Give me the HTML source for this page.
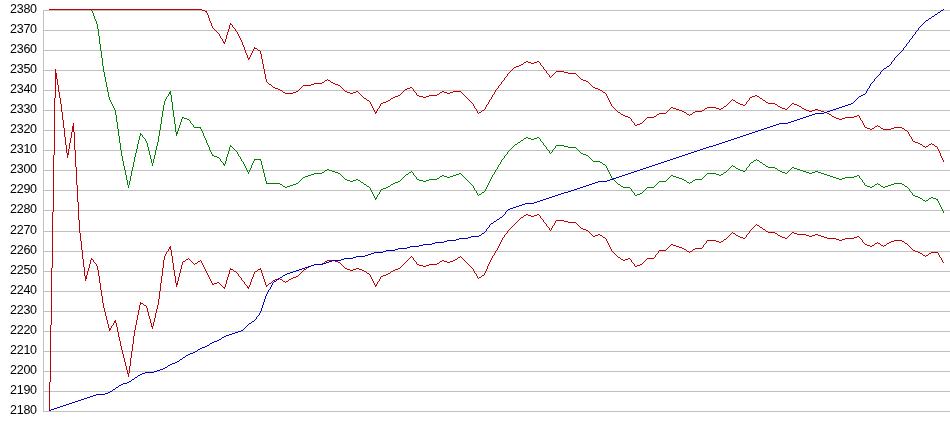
<!DOCTYPE html>
<html><head><meta charset="utf-8"><title>chart</title>
<style>
html,body{margin:0;padding:0;background:#fff;}
body{width:950px;height:435px;position:relative;overflow:hidden;font-family:"Liberation Sans",sans-serif;}
.g{position:absolute;left:43px;width:907px;height:1px;background:#c0c0c0;}
.ax{position:absolute;left:43px;top:10px;width:1px;height:402px;background:#c0c0c0;}
.lb{position:absolute;left:0;top:0;width:40px;height:435px;will-change:transform;}
.l{position:absolute;left:10px;width:37px;text-align:left;font-size:12.5px;letter-spacing:-0.25px;line-height:14px;color:#000;}
svg{position:absolute;left:0;top:0;}
</style></head><body>
<div class="g" style="top:10px"></div><div class="g" style="top:30px"></div><div class="g" style="top:50px"></div><div class="g" style="top:70px"></div><div class="g" style="top:90px"></div><div class="g" style="top:110px"></div><div class="g" style="top:130px"></div><div class="g" style="top:150px"></div><div class="g" style="top:170px"></div><div class="g" style="top:190px"></div><div class="g" style="top:210px"></div><div class="g" style="top:231px"></div><div class="g" style="top:251px"></div><div class="g" style="top:271px"></div><div class="g" style="top:291px"></div><div class="g" style="top:311px"></div><div class="g" style="top:331px"></div><div class="g" style="top:351px"></div><div class="g" style="top:371px"></div><div class="g" style="top:391px"></div><div class="g" style="top:411px"></div>
<div class="ax"></div>
<div class="lb"><div class="l" style="top:2.4px">2380</div><div class="l" style="top:22.4px">2370</div><div class="l" style="top:42.4px">2360</div><div class="l" style="top:62.4px">2350</div><div class="l" style="top:82.4px">2340</div><div class="l" style="top:102.4px">2330</div><div class="l" style="top:122.4px">2320</div><div class="l" style="top:142.4px">2310</div><div class="l" style="top:162.4px">2300</div><div class="l" style="top:182.4px">2290</div><div class="l" style="top:202.4px">2280</div><div class="l" style="top:223.4px">2270</div><div class="l" style="top:243.4px">2260</div><div class="l" style="top:263.4px">2250</div><div class="l" style="top:283.4px">2240</div><div class="l" style="top:303.4px">2230</div><div class="l" style="top:323.4px">2220</div><div class="l" style="top:343.4px">2210</div><div class="l" style="top:363.4px">2200</div><div class="l" style="top:383.4px">2190</div><div class="l" style="top:403.4px">2180</div></div>
<svg width="950" height="435" viewBox="0 0 950 435" shape-rendering="crispEdges" fill="none" stroke-width="1" stroke-linejoin="round">
<path stroke="#008000" d="M49 9.5h43M169 92.5h2M169 93.5h2M182 117.5h2M184 118.5h3M187 119.5h2M194 127.5h7M176 132.5h2M176 133.5h2M140 134.5h2M526 137.5h2M537 137.5h2M524 138.5h2M528 138.5h3M534 138.5h3M531 139.5h3M521 140.5h2M518 142.5h2M515 144.5h2M556 145.5h8M230 146.5h2M564 146.5h4M568 147.5h8M581 153.5h2M583 154.5h3M212 155.5h2M586 155.5h2M214 156.5h3M217 157.5h2M254 159.5h7M754 160.5h2M757 160.5h2M593 161.5h7M600 162.5h2M751 162.5h2M760 162.5h2M223 164.5h2M603 164.5h2M763 164.5h2M733 166.5h2M766 166.5h2M768 167.5h7M792 167.5h2M736 168.5h2M775 168.5h2M794 168.5h3M327 169.5h2M738 169.5h2M797 169.5h3M325 170.5h2M329 170.5h3M740 170.5h3M778 170.5h2M800 170.5h3M332 171.5h3M743 171.5h2M780 171.5h2M803 171.5h3M815 171.5h3M322 172.5h2M335 172.5h3M409 172.5h2M724 172.5h2M782 172.5h3M806 172.5h3M812 172.5h3M818 172.5h3M314 173.5h8M338 173.5h2M459 173.5h2M707 173.5h9M785 173.5h2M809 173.5h3M821 173.5h3M311 174.5h3M406 174.5h2M456 174.5h3M716 174.5h3M721 174.5h2M824 174.5h3M308 175.5h3M442 175.5h2M453 175.5h3M671 175.5h2M719 175.5h2M827 175.5h3M857 175.5h2M305 176.5h3M440 176.5h2M444 176.5h3M450 176.5h3M673 176.5h3M830 176.5h3M854 176.5h3M303 177.5h2M447 177.5h3M676 177.5h3M833 177.5h3M845 177.5h9M437 178.5h2M679 178.5h3M836 178.5h3M842 178.5h3M345 179.5h2M356 179.5h2M417 179.5h2M429 179.5h8M682 179.5h2M695 179.5h7M839 179.5h3M347 180.5h3M353 180.5h3M358 180.5h2M419 180.5h4M426 180.5h3M684 180.5h2M693 180.5h2M350 181.5h3M398 181.5h2M423 181.5h3M659 181.5h7M361 182.5h2M395 182.5h3M687 182.5h2M690 182.5h2M266 183.5h14M296 183.5h2M393 183.5h2M894 183.5h8M280 184.5h2M293 184.5h3M364 184.5h2M391 184.5h2M618 184.5h2M875 184.5h2M878 184.5h2M891 184.5h3M902 184.5h2M290 185.5h3M865 185.5h2M888 185.5h3M283 186.5h2M287 186.5h3M367 186.5h2M388 186.5h2M621 186.5h2M867 186.5h3M872 186.5h2M881 186.5h2M885 186.5h3M905 186.5h2M285 187.5h2M386 187.5h2M623 187.5h7M647 187.5h7M870 187.5h2M883 187.5h2M383 188.5h3M381 189.5h2M482 192.5h2M640 193.5h2M479 194.5h2M637 194.5h3M635 195.5h2M913 195.5h2M915 196.5h3M918 197.5h2M931 197.5h2M375 198.5h2M920 198.5h2M929 198.5h2M933 198.5h3M936 199.5h2M923 200.5h2M926 200.5h2M91.5 10v1M92.5 11v2M93.5 13v3M94.5 16v3M95.5 19v2M96.5 21v3M97.5 24v5M98.5 29v7M99.5 36v8M100.5 44v7M101.5 51v7M102.5 58v8M103.5 66v6M104.5 72v5M105.5 77v5M106.5 82v5M107.5 87v5M108.5 92v5M109.5 97v3M110.5 100v2M111.5 102v2M112.5 104v2M113.5 106v2M114.5 108v2M115.5 110v5M116.5 115v7M117.5 122v7M118.5 129v7M119.5 136v7M120.5 143v7M121.5 150v6M122.5 156v5M123.5 161v5M124.5 166v4M125.5 170v5M126.5 175v5M127.5 180v5M128.5 185v3M129.5 181v4M130.5 176v5M131.5 171v5M132.5 167v4M133.5 162v5M134.5 157v5M135.5 153v4M136.5 149v4M137.5 144v5M138.5 140v4M139.5 136v4M140.5 133v1M140.5 135v1M142.5 135v2M143.5 137v1M144.5 138v1M145.5 139v2M146.5 141v2M147.5 143v4M148.5 147v4M149.5 151v4M150.5 155v4M151.5 159v4M152.5 163v3M153.5 159v4M154.5 155v4M155.5 150v5M156.5 146v4M157.5 142v4M158.5 136v6M159.5 130v6M160.5 124v6M161.5 117v7M162.5 111v6M163.5 105v6M164.5 101v4M165.5 99v2M166.5 97v2M167.5 96v1M168.5 94v2M170.5 91v1M170.5 94v1M171.5 95v7M172.5 102v8M173.5 110v7M174.5 117v7M175.5 124v8M176.5 134v2M177.5 131v1M178.5 128v3M179.5 125v3M180.5 122v3M181.5 119v3M182.5 118v1M189.5 120v1M190.5 121v2M191.5 123v1M192.5 124v1M193.5 125v2M200.5 128v1M201.5 129v2M202.5 131v2M203.5 133v3M204.5 136v2M205.5 138v2M206.5 140v3M207.5 143v2M208.5 145v2M209.5 147v3M210.5 150v2M211.5 152v2M212.5 154v1M219.5 158v1M220.5 159v2M221.5 161v1M222.5 162v1M223.5 163v1M224.5 165v1M225.5 161v3M226.5 157v4M227.5 154v3M228.5 151v3M229.5 147v4M230.5 145v1M232.5 147v1M233.5 148v1M234.5 149v1M235.5 150v1M236.5 151v1M237.5 152v2M238.5 154v2M239.5 156v1M240.5 157v2M241.5 159v2M242.5 161v1M243.5 162v2M244.5 164v2M245.5 166v2M246.5 168v2M247.5 170v2M248.5 172v2M249.5 170v2M250.5 168v2M251.5 165v3M252.5 163v2M253.5 161v2M254.5 160v1M260.5 160v1M261.5 161v4M262.5 165v4M263.5 169v4M264.5 173v4M265.5 177v4M266.5 181v2M282.5 185v1M298.5 182v1M299.5 181v1M300.5 180v1M301.5 179v1M302.5 178v1M324.5 171v1M340.5 174v1M341.5 175v1M342.5 176v1M343.5 177v1M344.5 178v1M360.5 181v1M363.5 183v1M366.5 185v1M369.5 187v1M370.5 188v2M371.5 190v2M372.5 192v2M373.5 194v2M374.5 196v2M375.5 199v1M376.5 197v1M377.5 195v2M378.5 194v1M379.5 192v2M380.5 190v2M390.5 185v1M400.5 180v1M401.5 179v1M402.5 178v1M403.5 177v1M404.5 176v1M405.5 175v1M408.5 173v1M411.5 171v1M412.5 172v1M413.5 173v2M414.5 175v1M415.5 176v1M416.5 177v2M439.5 177v1M461.5 174v1M462.5 175v1M463.5 176v1M464.5 177v1M465.5 178v1M466.5 179v1M467.5 180v1M468.5 181v1M469.5 182v1M470.5 183v1M471.5 184v1M472.5 185v1M473.5 186v2M474.5 188v2M475.5 190v1M476.5 191v2M477.5 193v2M478.5 195v1M481.5 193v1M484.5 191v1M485.5 189v2M486.5 187v2M487.5 185v2M488.5 183v2M489.5 181v2M490.5 179v2M491.5 177v2M492.5 175v2M493.5 174v1M494.5 172v2M495.5 170v2M496.5 169v1M497.5 167v2M498.5 165v2M499.5 164v1M500.5 162v2M501.5 160v2M502.5 159v1M503.5 158v1M504.5 156v2M505.5 155v1M506.5 154v1M507.5 152v2M508.5 151v1M509.5 150v1M510.5 149v1M511.5 148v1M512.5 147v1M513.5 146v1M514.5 145v1M517.5 143v1M520.5 141v1M523.5 139v1M539.5 138v1M540.5 139v2M541.5 141v1M542.5 142v1M543.5 143v2M544.5 145v1M545.5 146v1M546.5 147v2M547.5 149v1M548.5 150v1M549.5 151v2M550.5 153v1M551.5 152v1M552.5 150v2M553.5 149v1M554.5 148v1M555.5 146v2M576.5 148v1M577.5 149v1M578.5 150v1M579.5 151v1M580.5 152v1M588.5 156v1M589.5 157v1M590.5 158v1M591.5 159v1M592.5 160v1M602.5 163v1M605.5 165v1M606.5 166v2M607.5 168v2M608.5 170v2M609.5 172v2M610.5 174v2M611.5 176v2M612.5 178v1M613.5 179v1M614.5 180v1M615.5 181v1M616.5 182v1M617.5 183v1M620.5 185v1M630.5 188v1M631.5 189v2M632.5 191v1M633.5 192v1M634.5 193v2M642.5 192v1M643.5 191v1M644.5 190v1M645.5 189v1M646.5 188v1M654.5 186v1M655.5 185v1M656.5 184v1M657.5 183v1M658.5 182v1M666.5 180v1M667.5 179v1M668.5 178v1M669.5 177v1M670.5 176v1M686.5 181v1M689.5 183v1M692.5 181v1M702.5 178v1M703.5 177v1M704.5 176v1M705.5 175v1M706.5 174v1M723.5 173v1M726.5 171v1M727.5 170v1M728.5 169v1M729.5 168v1M730.5 167v1M731.5 166v1M732.5 165v1M735.5 167v1M745.5 170v1M746.5 168v2M747.5 167v1M748.5 166v1M749.5 164v2M750.5 163v1M753.5 161v1M756.5 159v1M759.5 161v1M762.5 163v1M765.5 165v1M777.5 169v1M787.5 172v1M788.5 171v1M789.5 170v1M790.5 169v1M791.5 168v1M859.5 176v2M860.5 178v1M861.5 179v1M862.5 180v2M863.5 182v1M864.5 183v2M874.5 185v1M877.5 183v1M880.5 185v1M904.5 185v1M907.5 187v1M908.5 188v1M909.5 189v2M910.5 191v1M911.5 192v1M912.5 193v2M922.5 199v1M925.5 201v1M928.5 199v1M937.5 200v1M938.5 201v2M939.5 203v2M940.5 205v2M941.5 207v2M942.5 209v2M943.5 211v2"/>
<path stroke="#c00000" d="M49 9.5h153M202 10.5h3M205 11.5h2M230 24.5h2M223 42.5h2M254 48.5h3M258 50.5h2M248 58.5h2M526 61.5h2M537 61.5h2M524 62.5h2M528 62.5h3M534 62.5h3M531 63.5h3M521 64.5h2M519 65.5h2M516 66.5h3M514 67.5h2M556 71.5h8M564 72.5h4M568 73.5h8M581 79.5h2M325 80.5h2M328 80.5h2M583 80.5h3M586 81.5h2M322 82.5h2M331 82.5h2M314 83.5h8M333 83.5h2M269 84.5h2M311 84.5h3M335 84.5h3M303 85.5h8M338 85.5h2M273 87.5h2M410 87.5h2M593 87.5h2M275 88.5h3M407 88.5h3M595 88.5h3M278 89.5h2M405 89.5h2M598 89.5h2M280 90.5h2M600 90.5h2M296 91.5h2M345 91.5h2M356 91.5h2M442 91.5h2M453 91.5h8M283 92.5h2M293 92.5h3M347 92.5h3M353 92.5h3M440 92.5h2M444 92.5h3M450 92.5h3M603 92.5h2M285 93.5h8M350 93.5h3M447 93.5h3M437 94.5h2M398 95.5h2M417 95.5h2M429 95.5h8M755 95.5h2M395 96.5h3M419 96.5h4M426 96.5h3M752 96.5h3M757 96.5h2M393 97.5h2M423 97.5h3M750 97.5h2M364 98.5h2M391 98.5h2M760 98.5h2M367 100.5h2M388 100.5h2M733 100.5h2M763 100.5h2M386 101.5h2M383 102.5h3M736 102.5h2M766 102.5h2M381 103.5h2M738 103.5h2M768 103.5h7M792 103.5h2M740 104.5h3M775 104.5h2M794 104.5h3M743 105.5h2M797 105.5h2M724 106.5h2M778 106.5h2M799 106.5h2M671 107.5h2M707 107.5h9M780 107.5h2M673 108.5h3M705 108.5h2M716 108.5h3M721 108.5h2M782 108.5h3M802 108.5h2M676 109.5h3M719 109.5h2M785 109.5h2M804 109.5h2M815 109.5h3M482 110.5h2M679 110.5h3M702 110.5h2M806 110.5h3M812 110.5h3M818 110.5h3M682 111.5h2M695 111.5h7M809 111.5h3M821 111.5h3M375 112.5h2M479 112.5h2M618 112.5h2M684 112.5h2M693 112.5h2M824 112.5h3M659 113.5h7M827 113.5h2M621 114.5h2M657 114.5h2M687 114.5h2M690 114.5h2M829 114.5h2M623 115.5h2M857 115.5h2M625 116.5h3M654 116.5h2M832 116.5h2M854 116.5h3M628 117.5h2M647 117.5h7M834 117.5h2M845 117.5h9M836 118.5h3M842 118.5h3M839 119.5h3M640 123.5h2M637 124.5h3M635 125.5h2M875 126.5h2M878 126.5h2M865 127.5h2M894 127.5h8M867 128.5h3M872 128.5h2M881 128.5h2M891 128.5h3M902 128.5h2M870 129.5h2M883 129.5h8M905 130.5h2M913 141.5h2M915 142.5h3M918 143.5h2M920 144.5h2M929 144.5h2M932 144.5h2M923 146.5h2M926 146.5h2M935 146.5h2M206.5 12v1M207.5 13v2M208.5 15v3M209.5 18v3M210.5 21v2M211.5 23v3M212.5 26v2M213.5 28v1M214.5 29v1M215.5 30v1M216.5 31v1M217.5 32v1M218.5 33v1M219.5 34v2M220.5 36v2M221.5 38v1M222.5 39v2M223.5 41v1M224.5 43v1M225.5 39v3M226.5 35v4M227.5 32v3M228.5 29v3M229.5 25v4M230.5 23v1M232.5 25v2M233.5 27v1M234.5 28v1M235.5 29v2M236.5 31v1M237.5 32v2M238.5 34v2M239.5 36v2M240.5 38v2M241.5 40v2M242.5 42v3M243.5 45v2M244.5 47v3M245.5 50v3M246.5 53v2M247.5 55v3M248.5 59v1M249.5 57v1M250.5 55v2M251.5 53v2M252.5 51v2M253.5 49v2M254.5 47v1M257.5 49v1M260.5 51v3M261.5 54v5M262.5 59v5M263.5 64v5M264.5 69v5M265.5 74v5M266.5 79v3M267.5 82v1M268.5 83v1M271.5 85v1M272.5 86v1M282.5 91v1M298.5 90v1M299.5 89v1M300.5 88v1M301.5 87v1M302.5 86v1M324.5 81v1M327.5 79v1M330.5 81v1M340.5 86v1M341.5 87v1M342.5 88v1M343.5 89v1M344.5 90v1M358.5 92v1M359.5 93v1M360.5 94v1M361.5 95v1M362.5 96v1M363.5 97v1M366.5 99v1M369.5 101v1M370.5 102v2M371.5 104v2M372.5 106v2M373.5 108v2M374.5 110v2M375.5 113v1M376.5 111v1M377.5 109v2M378.5 108v1M379.5 106v2M380.5 104v2M390.5 99v1M400.5 94v1M401.5 93v1M402.5 92v1M403.5 91v1M404.5 90v1M412.5 88v1M413.5 89v2M414.5 91v1M415.5 92v1M416.5 93v2M439.5 93v1M461.5 92v1M462.5 93v1M463.5 94v1M464.5 95v1M465.5 96v1M466.5 97v1M467.5 98v1M468.5 99v1M469.5 100v1M470.5 101v1M471.5 102v1M472.5 103v1M473.5 104v2M474.5 106v2M475.5 108v1M476.5 109v2M477.5 111v2M478.5 113v1M481.5 111v1M484.5 109v1M485.5 107v2M486.5 105v2M487.5 104v1M488.5 102v2M489.5 100v2M490.5 99v1M491.5 97v2M492.5 95v2M493.5 94v1M494.5 92v2M495.5 90v2M496.5 89v1M497.5 88v1M498.5 86v2M499.5 85v1M500.5 84v1M501.5 82v2M502.5 81v1M503.5 80v1M504.5 78v2M505.5 77v1M506.5 76v1M507.5 74v2M508.5 73v1M509.5 72v1M510.5 71v1M511.5 70v1M512.5 69v1M513.5 68v1M523.5 63v1M539.5 62v1M540.5 63v2M541.5 65v1M542.5 66v1M543.5 67v2M544.5 69v1M545.5 70v1M546.5 71v2M547.5 73v1M548.5 74v1M549.5 75v2M550.5 77v1M551.5 76v1M552.5 75v1M553.5 74v1M554.5 73v1M555.5 72v1M576.5 74v1M577.5 75v1M578.5 76v1M579.5 77v1M580.5 78v1M588.5 82v1M589.5 83v1M590.5 84v1M591.5 85v1M592.5 86v1M602.5 91v1M605.5 93v1M606.5 94v2M607.5 96v2M608.5 98v2M609.5 100v2M610.5 102v2M611.5 104v2M612.5 106v1M613.5 107v1M614.5 108v1M615.5 109v1M616.5 110v1M617.5 111v1M620.5 113v1M630.5 118v1M631.5 119v2M632.5 121v1M633.5 122v1M634.5 123v2M642.5 122v1M643.5 121v1M644.5 120v1M645.5 119v1M646.5 118v1M656.5 115v1M666.5 112v1M667.5 111v1M668.5 110v1M669.5 109v1M670.5 108v1M686.5 113v1M689.5 115v1M692.5 113v1M704.5 109v1M723.5 107v1M726.5 105v1M727.5 104v1M728.5 103v1M729.5 102v1M730.5 101v1M731.5 100v1M732.5 99v1M735.5 101v1M745.5 104v1M746.5 102v2M747.5 101v1M748.5 100v1M749.5 98v2M759.5 97v1M762.5 99v1M765.5 101v1M777.5 105v1M787.5 108v1M788.5 107v1M789.5 106v1M790.5 105v1M791.5 104v1M801.5 107v1M831.5 115v1M859.5 116v2M860.5 118v2M861.5 120v1M862.5 121v2M863.5 123v2M864.5 125v2M874.5 127v1M877.5 125v1M880.5 127v1M904.5 129v1M907.5 131v1M908.5 132v2M909.5 134v2M910.5 136v1M911.5 137v2M912.5 139v2M922.5 145v1M925.5 147v1M928.5 145v1M931.5 143v1M934.5 145v1M937.5 147v2M938.5 149v2M939.5 151v2M940.5 153v3M941.5 156v2M942.5 158v2M943.5 160v2"/>
<path stroke="#c00000" d="M55 73.5h2M55 74.5h2M55 75.5h2M55 76.5h2M55 77.5h2M55 78.5h2M72 126.5h2M72 127.5h2M72 128.5h2M72 129.5h2M72 130.5h2M72 131.5h2M67 153.5h2M67 154.5h2M526 214.5h2M537 214.5h2M524 215.5h2M528 215.5h3M534 215.5h3M531 216.5h3M521 217.5h2M556 220.5h8M564 221.5h4M568 222.5h8M757 225.5h2M760 227.5h2M581 228.5h2M583 229.5h3M763 229.5h2M586 230.5h2M766 231.5h2M768 232.5h7M792 232.5h2M733 233.5h2M775 233.5h2M794 233.5h3M598 234.5h2M797 234.5h9M815 234.5h3M595 235.5h3M600 235.5h2M736 235.5h2M778 235.5h2M806 235.5h3M812 235.5h3M818 235.5h3M593 236.5h2M738 236.5h2M780 236.5h2M809 236.5h3M821 236.5h3M857 236.5h2M603 237.5h2M740 237.5h3M782 237.5h3M824 237.5h3M854 237.5h3M743 238.5h2M785 238.5h2M827 238.5h9M845 238.5h9M724 239.5h2M836 239.5h3M842 239.5h3M707 240.5h9M839 240.5h3M894 240.5h8M716 241.5h3M721 241.5h2M891 241.5h3M902 241.5h2M719 242.5h2M889 242.5h2M875 243.5h2M878 243.5h2M887 243.5h2M905 243.5h2M671 244.5h2M865 244.5h2M673 245.5h3M867 245.5h3M872 245.5h2M881 245.5h2M884 245.5h2M676 246.5h3M870 246.5h2M169 247.5h2M679 247.5h3M169 248.5h2M682 248.5h2M695 248.5h7M684 249.5h2M693 249.5h2M659 250.5h7M913 250.5h2M687 251.5h2M690 251.5h2M915 251.5h3M918 252.5h2M931 252.5h7M920 253.5h2M929 253.5h2M923 255.5h2M926 255.5h2M458 257.5h2M618 257.5h2M628 258.5h2M647 258.5h7M91 259.5h2M186 259.5h2M455 259.5h2M621 259.5h2M625 259.5h3M327 260.5h8M442 260.5h2M453 260.5h2M623 260.5h2M183 261.5h2M198 261.5h2M325 261.5h2M335 261.5h3M440 261.5h2M444 261.5h3M450 261.5h3M338 262.5h2M447 262.5h3M195 263.5h2M322 263.5h2M437 263.5h2M314 264.5h8M417 264.5h2M429 264.5h8M640 264.5h2M311 265.5h3M419 265.5h4M426 265.5h3M637 265.5h3M309 266.5h2M423 266.5h3M635 266.5h2M307 267.5h2M345 268.5h2M356 268.5h3M398 268.5h2M230 269.5h3M258 269.5h3M304 269.5h2M347 269.5h3M353 269.5h3M359 269.5h3M395 269.5h3M350 270.5h3M362 270.5h2M393 270.5h2M234 271.5h2M255 271.5h2M364 271.5h2M391 271.5h2M367 273.5h2M388 273.5h2M386 274.5h2M383 275.5h3M482 275.5h2M85 276.5h2M296 276.5h2M381 276.5h2M85 277.5h2M293 277.5h3M479 277.5h2M85 278.5h2M278 278.5h2M291 278.5h2M275 279.5h3M280 279.5h2M289 279.5h2M273 280.5h2M283 281.5h2M286 281.5h2M217 282.5h2M176 283.5h2M214 283.5h3M269 283.5h2M176 284.5h2M212 284.5h2M266 285.5h2M375 285.5h2M223 287.5h2M247 287.5h2M140 303.5h3M144 305.5h2M114 321.5h2M114 322.5h2M151 326.5h2M109 328.5h2M109 329.5h2M127 373.5h2M49.5 382v29M50.5 325v57M51.5 268v57M52.5 212v56M53.5 155v57M54.5 98v57M55.5 69v4M55.5 79v19M57.5 79v6M58.5 85v7M59.5 92v6M60.5 98v6M61.5 104v8M62.5 112v8M63.5 120v8M64.5 128v9M65.5 137v8M66.5 145v8M67.5 155v3M68.5 149v4M69.5 143v6M70.5 138v5M71.5 132v6M73.5 123v3M74.5 132v18M75.5 150v17M76.5 167v18M77.5 185v17M78.5 202v18M79.5 220v13M80.5 233v8M81.5 241v9M82.5 250v9M83.5 259v8M84.5 267v9M85.5 279v2M86.5 275v1M87.5 271v4M88.5 268v3M89.5 264v4M90.5 260v4M91.5 258v1M93.5 260v2M94.5 262v1M95.5 263v1M96.5 264v2M97.5 266v4M98.5 270v6M99.5 276v7M100.5 283v7M101.5 290v6M102.5 296v7M103.5 303v5M104.5 308v4M105.5 312v4M106.5 316v4M107.5 320v4M108.5 324v4M109.5 330v1M111.5 326v2M112.5 325v1M113.5 323v2M115.5 320v1M116.5 323v4M117.5 327v5M118.5 332v5M119.5 337v4M120.5 341v5M121.5 346v4M122.5 350v4M123.5 354v4M124.5 358v4M125.5 362v4M126.5 366v4M127.5 370v3M128.5 374v3M129.5 366v7M130.5 358v8M131.5 351v7M132.5 344v7M133.5 336v8M134.5 330v6M135.5 325v5M136.5 320v5M137.5 315v5M138.5 310v5M139.5 305v5M140.5 302v1M140.5 304v1M143.5 304v1M146.5 306v2M147.5 308v4M148.5 312v4M149.5 316v3M150.5 319v4M151.5 323v3M152.5 327v2M153.5 322v4M154.5 318v4M155.5 313v5M156.5 309v4M157.5 305v4M158.5 299v6M159.5 291v8M160.5 283v8M161.5 276v7M162.5 268v8M163.5 260v8M164.5 256v4M165.5 254v2M166.5 252v2M167.5 251v1M168.5 249v2M170.5 246v1M170.5 249v1M171.5 250v6M172.5 256v7M173.5 263v7M174.5 270v6M175.5 276v7M176.5 285v2M177.5 281v2M178.5 277v4M179.5 273v4M180.5 269v4M181.5 265v4M182.5 262v3M185.5 260v1M188.5 258v1M189.5 259v1M190.5 260v1M191.5 261v1M192.5 262v1M193.5 263v1M194.5 264v1M197.5 262v1M200.5 260v1M201.5 261v2M202.5 263v2M203.5 265v2M204.5 267v2M205.5 269v2M206.5 271v2M207.5 273v2M208.5 275v2M209.5 277v2M210.5 279v2M211.5 281v2M212.5 283v1M219.5 283v1M220.5 284v1M221.5 285v1M222.5 286v1M224.5 288v1M225.5 284v3M226.5 280v4M227.5 277v3M228.5 274v3M229.5 270v4M230.5 268v1M233.5 270v1M236.5 272v1M237.5 273v1M238.5 274v2M239.5 276v1M240.5 277v1M241.5 278v2M242.5 280v1M243.5 281v1M244.5 282v2M245.5 284v1M246.5 285v1M247.5 286v1M248.5 288v1M249.5 285v2M250.5 282v3M251.5 279v3M252.5 277v2M253.5 274v3M254.5 272v2M257.5 270v1M260.5 268v1M261.5 270v3M262.5 273v3M263.5 276v3M264.5 279v3M265.5 282v3M266.5 286v1M268.5 284v1M271.5 282v1M272.5 281v1M282.5 280v1M285.5 282v1M288.5 280v1M298.5 275v1M299.5 274v1M300.5 273v1M301.5 272v1M302.5 271v1M303.5 270v1M306.5 268v1M324.5 262v1M340.5 263v1M341.5 264v1M342.5 265v1M343.5 266v1M344.5 267v1M366.5 272v1M369.5 274v1M370.5 275v2M371.5 277v2M372.5 279v2M373.5 281v2M374.5 283v2M375.5 286v1M376.5 284v1M377.5 282v2M378.5 281v1M379.5 279v2M380.5 277v2M390.5 272v1M400.5 267v1M401.5 266v1M402.5 265v1M403.5 264v1M404.5 263v1M405.5 262v1M406.5 261v1M407.5 260v1M408.5 259v1M409.5 258v1M410.5 257v1M411.5 256v1M412.5 257v1M413.5 258v2M414.5 260v1M415.5 261v1M416.5 262v2M439.5 262v1M457.5 258v1M460.5 256v1M461.5 257v1M462.5 258v1M463.5 259v1M464.5 260v1M465.5 261v1M466.5 262v1M467.5 263v1M468.5 264v1M469.5 265v1M470.5 266v1M471.5 267v1M472.5 268v1M473.5 269v2M474.5 271v2M475.5 273v1M476.5 274v2M477.5 276v2M478.5 278v1M481.5 276v1M484.5 273v2M485.5 271v2M486.5 269v2M487.5 266v3M488.5 264v2M489.5 262v2M490.5 260v2M491.5 258v2M492.5 256v2M493.5 255v1M494.5 253v2M495.5 251v2M496.5 250v1M497.5 248v2M498.5 246v2M499.5 244v2M500.5 242v2M501.5 240v2M502.5 238v2M503.5 237v1M504.5 235v2M505.5 234v1M506.5 233v1M507.5 231v2M508.5 230v1M509.5 229v1M510.5 228v1M511.5 227v1M512.5 226v1M513.5 225v1M514.5 224v1M515.5 223v1M516.5 222v1M517.5 221v1M518.5 220v1M519.5 219v1M520.5 218v1M523.5 216v1M539.5 215v1M540.5 216v2M541.5 218v1M542.5 219v1M543.5 220v2M544.5 222v1M545.5 223v1M546.5 224v2M547.5 226v1M548.5 227v1M549.5 228v2M550.5 230v1M551.5 228v2M552.5 226v2M553.5 225v1M554.5 223v2M555.5 221v2M576.5 223v1M577.5 224v1M578.5 225v1M579.5 226v1M580.5 227v1M588.5 231v1M589.5 232v1M590.5 233v1M591.5 234v1M592.5 235v1M602.5 236v1M605.5 238v1M606.5 239v2M607.5 241v2M608.5 243v2M609.5 245v2M610.5 247v2M611.5 249v2M612.5 251v1M613.5 252v1M614.5 253v1M615.5 254v1M616.5 255v1M617.5 256v1M620.5 258v1M630.5 259v1M631.5 260v2M632.5 262v1M633.5 263v1M634.5 264v2M642.5 263v1M643.5 262v1M644.5 261v1M645.5 260v1M646.5 259v1M654.5 257v1M655.5 255v2M656.5 254v1M657.5 253v1M658.5 251v2M666.5 249v1M667.5 248v1M668.5 247v1M669.5 246v1M670.5 245v1M686.5 250v1M689.5 252v1M692.5 250v1M702.5 247v1M703.5 245v2M704.5 244v1M705.5 243v1M706.5 241v2M723.5 240v1M726.5 238v1M727.5 237v1M728.5 236v1M729.5 235v1M730.5 234v1M731.5 233v1M732.5 232v1M735.5 234v1M745.5 237v1M746.5 235v2M747.5 234v1M748.5 233v1M749.5 231v2M750.5 230v1M751.5 229v1M752.5 228v1M753.5 227v1M754.5 226v1M755.5 225v1M756.5 224v1M759.5 226v1M762.5 228v1M765.5 230v1M777.5 234v1M787.5 237v1M788.5 236v1M789.5 235v1M790.5 234v1M791.5 233v1M859.5 237v1M860.5 238v1M861.5 239v1M862.5 240v2M863.5 242v1M864.5 243v1M874.5 244v1M877.5 242v1M880.5 244v1M883.5 246v1M886.5 244v1M904.5 242v1M907.5 244v1M908.5 245v1M909.5 246v1M910.5 247v1M911.5 248v1M912.5 249v1M922.5 254v1M925.5 256v1M928.5 254v1M938.5 253v2M939.5 255v2M940.5 257v1M941.5 258v2M942.5 260v2M943.5 262v1"/>
<path stroke="#0000c0" d="M941 10.5h2M938 12.5h2M935 14.5h2M932 16.5h2M929 18.5h2M926 20.5h2M887 66.5h2M884 68.5h2M863 94.5h2M861 95.5h2M859 96.5h2M851 103.5h2M848 104.5h3M845 105.5h3M842 106.5h3M839 107.5h3M836 108.5h3M833 109.5h3M830 110.5h3M827 111.5h3M824 112.5h3M815 113.5h9M812 114.5h3M809 115.5h3M806 116.5h3M803 117.5h3M800 118.5h3M797 119.5h3M794 120.5h3M791 121.5h3M788 122.5h3M779 123.5h9M776 124.5h3M773 125.5h3M770 126.5h3M767 127.5h3M764 128.5h3M761 129.5h3M758 130.5h3M755 131.5h3M752 132.5h3M749 133.5h3M746 134.5h3M743 135.5h3M740 136.5h3M737 137.5h3M734 138.5h3M731 139.5h3M728 140.5h3M725 141.5h3M722 142.5h3M719 143.5h3M716 144.5h3M713 145.5h3M709 146.5h4M706 147.5h3M703 148.5h3M700 149.5h3M697 150.5h3M694 151.5h3M691 152.5h3M688 153.5h3M685 154.5h3M682 155.5h3M679 156.5h3M676 157.5h3M673 158.5h3M670 159.5h3M667 160.5h3M664 161.5h3M661 162.5h3M658 163.5h3M655 164.5h3M652 165.5h3M649 166.5h3M646 167.5h3M643 168.5h3M640 169.5h3M637 170.5h3M634 171.5h3M631 172.5h3M628 173.5h3M625 174.5h3M622 175.5h3M619 176.5h3M616 177.5h3M613 178.5h3M610 179.5h3M607 180.5h3M598 181.5h9M595 182.5h3M592 183.5h3M589 184.5h3M586 185.5h3M583 186.5h3M580 187.5h3M577 188.5h3M574 189.5h3M571 190.5h3M568 191.5h3M564 192.5h4M561 193.5h3M558 194.5h3M555 195.5h3M552 196.5h3M549 197.5h3M546 198.5h3M543 199.5h3M540 200.5h3M537 201.5h3M534 202.5h3M525 203.5h9M522 204.5h3M519 205.5h3M516 206.5h3M513 207.5h3M510 208.5h3M508 209.5h2M500 217.5h2M497 219.5h2M494 221.5h2M491 223.5h2M482 233.5h2M479 235.5h2M471 236.5h8M468 237.5h3M459 238.5h9M456 239.5h3M447 240.5h9M444 241.5h3M435 242.5h9M432 243.5h3M423 244.5h9M419 245.5h4M410 246.5h9M407 247.5h3M398 248.5h9M395 249.5h3M386 250.5h9M383 251.5h3M374 252.5h9M371 253.5h3M368 254.5h3M365 255.5h3M356 256.5h9M353 257.5h3M344 258.5h9M341 259.5h3M332 260.5h9M329 261.5h3M326 262.5h3M323 263.5h3M314 264.5h9M311 265.5h3M308 266.5h3M305 267.5h3M302 268.5h3M299 269.5h3M296 270.5h3M293 271.5h3M290 272.5h3M287 273.5h3M285 274.5h2M283 275.5h2M280 277.5h2M277 279.5h2M274 281.5h2M252 321.5h2M249 323.5h2M241 330.5h2M238 331.5h3M235 332.5h3M232 333.5h3M229 334.5h3M226 335.5h3M224 336.5h2M222 337.5h2M219 339.5h2M217 340.5h2M214 341.5h3M212 342.5h2M210 343.5h2M207 345.5h2M205 346.5h2M202 347.5h3M200 348.5h2M198 349.5h2M195 351.5h2M193 352.5h2M190 353.5h3M188 354.5h2M186 355.5h2M183 357.5h2M180 359.5h2M177 361.5h2M175 362.5h2M172 363.5h3M170 364.5h2M168 365.5h2M165 367.5h2M163 368.5h2M160 369.5h3M157 370.5h3M154 371.5h3M145 372.5h9M142 373.5h3M140 374.5h2M138 375.5h2M135 377.5h2M132 379.5h2M129 381.5h2M127 382.5h2M123 383.5h4M121 384.5h2M119 385.5h2M116 387.5h2M113 389.5h2M110 391.5h2M108 392.5h2M105 393.5h3M96 394.5h9M93 395.5h3M90 396.5h3M87 397.5h3M84 398.5h3M81 399.5h3M78 400.5h3M75 401.5h3M72 402.5h3M69 403.5h3M66 404.5h3M63 405.5h3M60 406.5h3M57 407.5h3M54 408.5h3M51 409.5h3M49 410.5h2M112.5 390v1M115.5 388v1M118.5 386v1M131.5 380v1M134.5 378v1M137.5 376v1M167.5 366v1M179.5 360v1M182.5 358v1M185.5 356v1M197.5 350v1M209.5 344v1M221.5 338v1M243.5 329v1M244.5 328v1M245.5 327v1M246.5 326v1M247.5 325v1M248.5 324v1M251.5 322v1M254.5 320v1M255.5 319v1M256.5 317v2M257.5 316v1M258.5 315v1M259.5 313v2M260.5 311v2M261.5 308v3M262.5 305v3M263.5 302v3M264.5 299v3M265.5 296v3M266.5 294v2M267.5 292v2M268.5 290v2M269.5 289v1M270.5 287v2M271.5 285v2M272.5 283v2M273.5 282v1M276.5 280v1M279.5 278v1M282.5 276v1M481.5 234v1M484.5 232v1M485.5 231v1M486.5 229v2M487.5 228v1M488.5 227v1M489.5 225v2M490.5 224v1M493.5 222v1M496.5 220v1M499.5 218v1M502.5 216v1M503.5 215v1M504.5 214v1M505.5 212v2M506.5 211v1M507.5 210v1M853.5 102v1M854.5 101v1M855.5 100v1M856.5 99v1M857.5 98v1M858.5 97v1M865.5 93v1M866.5 91v2M867.5 89v2M868.5 88v1M869.5 86v2M870.5 84v2M871.5 83v1M872.5 82v1M873.5 81v1M874.5 79v2M875.5 78v1M876.5 77v1M877.5 76v1M878.5 75v1M879.5 74v1M880.5 72v2M881.5 71v1M882.5 70v1M883.5 69v1M886.5 67v1M889.5 65v1M890.5 64v1M891.5 62v2M892.5 61v1M893.5 60v1M894.5 58v2M895.5 57v1M896.5 56v1M897.5 55v1M898.5 54v1M899.5 53v1M900.5 52v1M901.5 51v1M902.5 50v1M903.5 48v2M904.5 47v1M905.5 46v1M906.5 44v2M907.5 43v1M908.5 42v1M909.5 40v2M910.5 39v1M911.5 38v1M912.5 36v2M913.5 35v1M914.5 34v1M915.5 32v2M916.5 31v1M917.5 30v1M918.5 28v2M919.5 27v1M920.5 26v1M921.5 25v1M922.5 24v1M923.5 23v1M924.5 22v1M925.5 21v1M928.5 19v1M931.5 17v1M934.5 15v1M937.5 13v1M940.5 11v1M943.5 9v1"/>
</svg>
</body></html>
